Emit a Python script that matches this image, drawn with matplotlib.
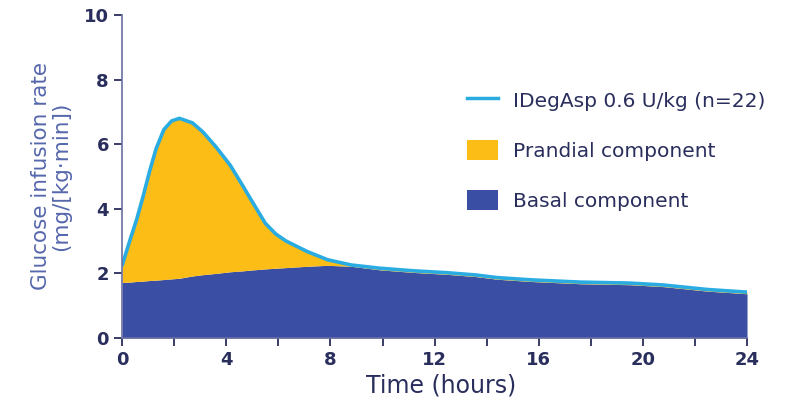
import matplotlib.pyplot as plt
from matplotlib.lines import Line2D
from matplotlib.patches import Patch

# Glucose infusion rate profile (mg/[kg·min]) over 24 hours
hours = [0, 0.3, 0.55, 0.8, 1.05, 1.3, 1.6, 1.9, 2.2, 2.7, 3.1, 3.6, 4.15,
         4.65, 4.9, 5.5, 5.9, 6.3, 7.1, 7.9, 8.8, 9.9, 11.2, 12.5, 13.6, 14.4,
         15.7, 17.6, 19.5, 20.8, 22.5, 24]
total_gir = [2.25, 3.03, 3.65, 4.37, 5.15, 5.85, 6.45, 6.72, 6.8, 6.66, 6.38,
             5.92, 5.35, 4.69, 4.35, 3.55, 3.22, 3.0, 2.68, 2.42, 2.26, 2.16,
             2.08, 2.02, 1.95, 1.87, 1.8, 1.73, 1.7, 1.64, 1.5, 1.42]
basal_gir = [1.72, 1.73, 1.75, 1.76, 1.78, 1.79, 1.81, 1.83, 1.85, 1.92, 1.96,
             2.0, 2.05, 2.08, 2.1, 2.14, 2.16, 2.18, 2.22, 2.25, 2.22, 2.11,
             2.03, 1.97, 1.9, 1.82, 1.75, 1.68, 1.65, 1.59, 1.45, 1.37]

x_ticks = [0, 4, 8, 12, 16, 20, 24]
y_ticks = [0, 2, 4, 6, 8, 10]

navy = "#3a4fa3"
yellow = "#fbbd16"
cyan = "#2aace2"
dark = "#2a2e5c"

fig = plt.figure(figsize=(7.88, 4.0), dpi=100)
ax = fig.add_axes([0.155, 0.155, 0.793, 0.8075])

ax.fill_between(hours, 0, basal_gir, color=navy, lw=0)
ax.fill_between(hours, basal_gir, total_gir, color=yellow, lw=0)
ax.plot(hours, total_gir, color=cyan, lw=2.6, solid_capstyle="round",
        solid_joinstyle="round")

ax.set_xlim(0, 24)
ax.set_ylim(0, 10)
ax.set_xticks(x_ticks)
ax.set_xticks(range(0, 25, 2), minor=True)
ax.set_yticks(y_ticks)

for side in ["top", "right"]:
    ax.spines[side].set_visible(False)
for side in ["left", "bottom"]:
    ax.spines[side].set_color("#6a70a0")
    ax.spines[side].set_linewidth(1.2)

ax.tick_params(axis="both", which="both", direction="out", length=6,
               width=1.3, color="#2a2e5c", labelsize=13, labelcolor=dark)
for lab in ax.get_xticklabels() + ax.get_yticklabels():
    lab.set_fontweight("bold")

ax.set_xlabel("Time (hours)", fontsize=17, color=dark)
ax.xaxis.set_label_coords(0.51, -0.11, transform=ax.transAxes)
ax.set_ylabel("Glucose infusion rate\n(mg/[kg·min])", fontsize=15.5,
              color="#5667ad", labelpad=9, linespacing=1.05)

handles = [
    Line2D([0], [0], color=cyan, lw=2.5),
    Patch(facecolor=yellow, edgecolor="none"),
    Patch(facecolor=navy, edgecolor="none"),
]
labels = ["IDegAsp 0.6 U/kg (n=22)", "Prandial component", "Basal component"]
fig.legend(handles, labels, loc="upper left",
           bbox_to_anchor=(0.5926, 0.775), frameon=False, fontsize=14.5,
           borderpad=0, borderaxespad=0,
           handlelength=1.55, handleheight=1.15, labelspacing=1.45,
           handletextpad=0.75, labelcolor=dark)

plt.savefig("out.png", dpi=100)
